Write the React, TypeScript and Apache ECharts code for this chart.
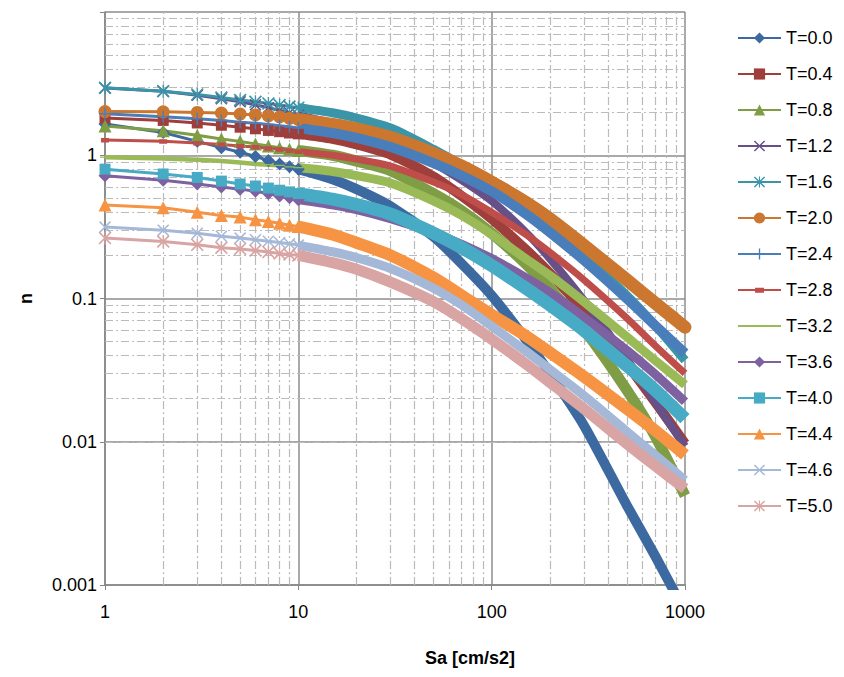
import React, { useEffect, useRef } from "react";
import * as echarts from "echarts";

// Sa values (x) at which the curves were read
const sa = [1, 2, 3, 4, 5, 6, 7, 8, 9, 10, 15, 20, 30, 50, 70, 100, 150, 200, 300, 500, 700, 1000];

const seriesNames = ["T=0.0", "T=0.4", "T=0.8", "T=1.2", "T=1.6", "T=2.0", "T=2.4", "T=2.8", "T=3.2", "T=3.6", "T=4.0", "T=4.4", "T=4.6", "T=5.0"];

const t00 = [1.65, 1.44, 1.25, 1.13, 1.05, 0.98, 0.92, 0.87, 0.83, 0.8, 0.68, 0.58, 0.44, 0.27, 0.175, 0.105, 0.052, 0.03, 0.013, 0.0036, 0.0016, 0.00065];
const t04 = [1.82, 1.75, 1.68, 1.62, 1.57, 1.53, 1.49, 1.46, 1.43, 1.41, 1.3, 1.19, 1.01, 0.71, 0.52, 0.36, 0.22, 0.15, 0.082, 0.035, 0.019, 0.0097];
const t08 = [1.6, 1.48, 1.38, 1.3, 1.25, 1.2, 1.16, 1.13, 1.1, 1.08, 1.0, 0.91, 0.78, 0.54, 0.41, 0.285, 0.175, 0.117, 0.061, 0.023, 0.011, 0.0042];
const t12 = [2.95, 2.8, 2.62, 2.48, 2.36, 2.25, 2.15, 2.06, 1.98, 1.9, 1.68, 1.5, 1.22, 0.88, 0.67, 0.48, 0.29, 0.19, 0.097, 0.038, 0.019, 0.0093];
const t16 = [2.96, 2.8, 2.66, 2.53, 2.43, 2.36, 2.3, 2.24, 2.19, 2.15, 1.98, 1.82, 1.55, 1.1, 0.85, 0.62, 0.43, 0.32, 0.2, 0.105, 0.065, 0.037];
const t20 = [2.02, 2.01, 1.99, 1.97, 1.94, 1.91, 1.88, 1.85, 1.81, 1.78, 1.64, 1.53, 1.33, 1.03, 0.84, 0.65, 0.47, 0.36, 0.235, 0.135, 0.093, 0.063];
const t24 = [1.95, 1.86, 1.8, 1.75, 1.7, 1.67, 1.64, 1.61, 1.58, 1.55, 1.43, 1.32, 1.14, 0.88, 0.72, 0.56, 0.39, 0.29, 0.185, 0.1, 0.065, 0.0415];
const t28 = [1.28, 1.25, 1.22, 1.19, 1.16, 1.14, 1.12, 1.1, 1.08, 1.06, 1.0, 0.94, 0.84, 0.65, 0.53, 0.4, 0.28, 0.21, 0.135, 0.073, 0.047, 0.03];
const t32 = [0.97, 0.95, 0.93, 0.91, 0.89, 0.87, 0.86, 0.85, 0.83, 0.82, 0.77, 0.72, 0.64, 0.48, 0.38, 0.28, 0.19, 0.145, 0.095, 0.054, 0.037, 0.025];
const t36 = [0.72, 0.67, 0.63, 0.6, 0.58, 0.56, 0.54, 0.52, 0.505, 0.49, 0.45, 0.417, 0.36, 0.287, 0.239, 0.19, 0.14, 0.11, 0.074, 0.0435, 0.0296, 0.019];
const t40 = [0.8, 0.74, 0.7, 0.66, 0.63, 0.61, 0.59, 0.57, 0.555, 0.54, 0.494, 0.453, 0.388, 0.286, 0.226, 0.17, 0.118, 0.09, 0.06, 0.034, 0.023, 0.0145];
const t44 = [0.45, 0.43, 0.4, 0.38, 0.37, 0.355, 0.345, 0.335, 0.325, 0.318, 0.28, 0.245, 0.2, 0.14, 0.105, 0.077, 0.055, 0.042, 0.0285, 0.017, 0.012, 0.0081];
const t46 = [0.315, 0.3, 0.285, 0.272, 0.264, 0.257, 0.251, 0.246, 0.241, 0.236, 0.212, 0.193, 0.162, 0.118, 0.09, 0.064, 0.043, 0.032, 0.021, 0.0118, 0.0081, 0.0054];
const t50 = [0.264, 0.25, 0.237, 0.226, 0.222, 0.216, 0.211, 0.206, 0.203, 0.2, 0.178, 0.16, 0.13, 0.095, 0.072, 0.052, 0.035, 0.026, 0.017, 0.0097, 0.0068, 0.0047];

const seriesValues = [t00, t04, t08, t12, t16, t20, t24, t28, t32, t36, t40, t44, t46, t50];

const xTickLabels = ["1", "10", "100", "1000"];
const yTickLabels = ["0.001", "0.01", "0.1", "1"];
const xMinorGrid = [2, 3, 4, 5, 6, 7, 8, 9, 20, 30, 40, 50, 60, 70, 80, 90, 200, 300, 400, 500, 600, 700, 800, 900];
const yMinorGrid = [0.002, 0.003, 0.004, 0.005, 0.006, 0.007, 0.008, 0.009, 0.02, 0.03, 0.04, 0.05, 0.06, 0.07, 0.08, 0.09, 0.2, 0.3, 0.4, 0.5, 0.6, 0.7, 0.8, 0.9, 2, 3, 4, 5, 6, 7, 8, 9];

// styles
const colors = ["#3C6AA0", "#9E3F3C", "#7F9D45", "#674F88", "#3A95A9", "#CB772F", "#4A7EBB", "#BF4D4A", "#9ABA58", "#7E61A1", "#47ABC6", "#F69443", "#A5B8D8", "#D8A5A4"];

const X_PATH = "path://M0,0.9 L0.9,0 L5,4.1 L9.1,0 L10,0.9 L5.9,5 L10,9.1 L9.1,10 L5,5.9 L0.9,10 L0,9.1 L4.1,5 Z";
const STAR_PATH = "path://M0,0.9 L0.9,0 L5,4.1 L9.1,0 L10,0.9 L5.9,5 L10,9.1 L9.1,10 L5,5.9 L0.9,10 L0,9.1 L4.1,5 Z M4.5,0 L5.5,0 L5.5,10 L4.5,10 Z";
const PLUS_PATH = "path://M4.4,0 L5.6,0 L5.6,4.4 L10,4.4 L10,5.6 L5.6,5.6 L5.6,10 L4.4,10 L4.4,5.6 L0,5.6 L0,4.4 L4.4,4.4 Z";
const DASH_PATH = "path://M0,0 L0.01,0 L0,0.01 Z M1,3 L9,3 L9,7.5 L1,7.5 Z M10,10 L9.99,10 L10,9.99 Z";
const THIN_PATH = "path://M0,0 L0.01,0 L0,0.01 Z M0,4.3 L10,4.3 L10,5.7 L0,5.7 Z M10,10 L9.99,10 L10,9.99 Z";

const symbols: any[] = ["diamond", "rect", "triangle", X_PATH, STAR_PATH, "circle", PLUS_PATH, DASH_PATH, THIN_PATH, "diamond", "rect", "triangle", X_PATH, STAR_PATH];
const symbolSizes = [13, 11, 13, 12, 13, 13, 12, 10, 10, 13, 11, 13, 12, 13];
const headWidths = [3, 3, 3, 3, 3, 3, 3, 3, 4.5, 3, 3, 3, 3, 3];
const bandWidths = [10, 10, 11, 8, 9, 13, 10, 7, 9, 9, 13, 12, 9, 11];

const FONT = '"Liberation Sans", Arial, sans-serif';

export default function App() {
  const ref = useRef<HTMLDivElement>(null);

  useEffect(() => {
    if (!ref.current) return;
    const chart = echarts.init(ref.current, undefined, { renderer: "svg" });

    const series: any[] = [
      {
        type: "line",
        name: "__grid",
        data: [],
        silent: true,
        z: 1,
        markLine: {
          silent: true,
          z: 1,
          animation: false,
          symbol: ["none", "none"],
          label: { show: false },
          lineStyle: { color: "#BBBBBB", width: 1.2, type: [8, 3, 2, 3] },
          emphasis: { disabled: true },
          data: [
            ...xMinorGrid.map((v) => ({ xAxis: v })),
            ...yMinorGrid.map((v) => ({ yAxis: v })),
          ],
        },
      },
    ];

    seriesNames.forEach((name, k) => {
      const vals = seriesValues[k];
      const head = sa.slice(0, 10).map((x, i) => [x, vals[i]]);
      const tail = sa.slice(9).map((x, i) => [x, vals[i + 9]]);
      series.push({
        type: "line",
        name,
        data: head,
        symbol: symbols[k],
        symbolSize: symbolSizes[k],
        showSymbol: true,
        lineStyle: { width: headWidths[k], color: colors[k] },
        itemStyle: { color: colors[k] },
        emphasis: { disabled: true },
        z: 2,
      });
      series.push({
        type: "line",
        name,
        data: tail,
        symbol: "none",
        showSymbol: false,
        smooth: 0.25,
        lineStyle: {
          width: bandWidths[k],
          color: colors[k],
          cap: symbols[k] === "circle" ? "round" : "butt",
          join: "round",
        },
        itemStyle: { color: colors[k] },
        emphasis: { disabled: true },
        z: 2,
      });
    });

    chart.setOption({
      animation: false,
      textStyle: { fontFamily: FONT },
      grid: { left: 105, right: 159, top: 12, bottom: 92, containLabel: false },
      title: {
        text: "Sa [cm/s2]",
        left: 470,
        top: 649,
        textAlign: "center",
        padding: 0,
        textStyle: { fontFamily: FONT, fontSize: 18, fontWeight: "bold", color: "#000" },
      },
      legend: {
        data: seriesNames,
        orient: "vertical",
        left: 732,
        top: 23,
        itemWidth: 43,
        itemHeight: 14,
        itemGap: 16,
        selectedMode: false,
        textStyle: { fontFamily: FONT, fontSize: 18, color: "#000", lineHeight: 20 },
      },
      xAxis: {
        type: "log",
        logBase: 10,
        min: 1,
        max: 1000,
        axisLine: { show: true, lineStyle: { color: "#868686", width: 1.5 } },
        axisTick: { show: true, length: 5, lineStyle: { color: "#868686" } },
        axisLabel: {
          color: "#000",
          fontSize: 18,
          margin: 18,
          fontFamily: FONT,
          formatter: (v: number) => {
            const idx = Math.round(Math.log10(v));
            return xTickLabels[idx] ?? "";
          },
        },
        splitLine: { show: true, lineStyle: { color: "#8C8C8C", width: 1.5 } },
      },
      yAxis: {
        type: "log",
        logBase: 10,
        min: 0.001,
        max: 10,
        name: "n",
        nameLocation: "middle",
        nameGap: 70,
        nameTextStyle: { fontFamily: FONT, fontSize: 18, fontWeight: "bold", color: "#000" },
        axisLine: { show: true, lineStyle: { color: "#868686", width: 1.5 } },
        axisTick: { show: true, length: 5, lineStyle: { color: "#868686" } },
        axisLabel: {
          color: "#000",
          fontSize: 18,
          margin: 8,
          fontFamily: FONT,
          formatter: (v: number) => {
            const idx = Math.round(Math.log10(v)) + 3;
            return yTickLabels[idx] ?? "";
          },
        },
        splitLine: { show: true, lineStyle: { color: "#8C8C8C", width: 1.5 } },
      },
      series,
    });

    return () => chart.dispose();
  }, []);

  return (
    <div
      ref={ref}
      style={{ position: "fixed", left: 0, top: 0, width: 844, height: 677, background: "#fff" }}
    />
  );
}
